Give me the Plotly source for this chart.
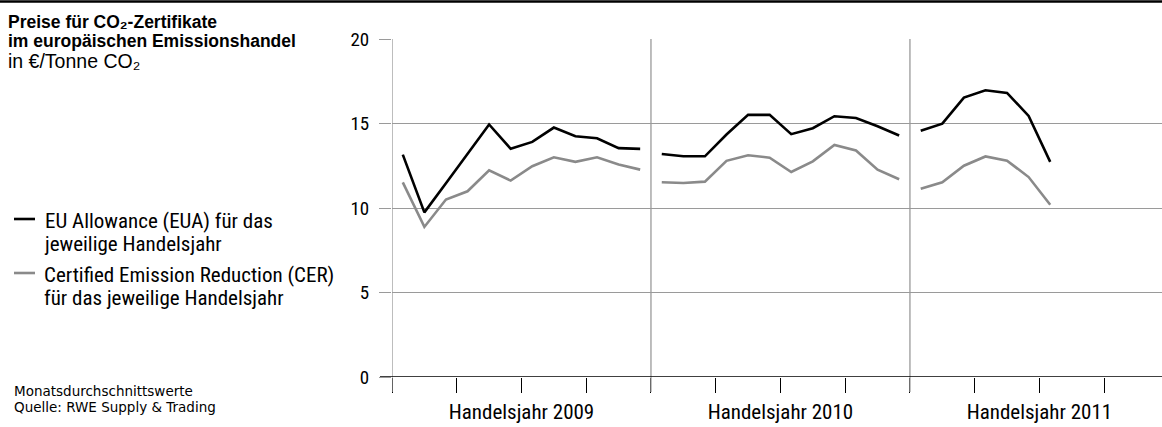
import plotly.graph_objects as go

# ---- data (monthly averages, €/t CO2) ----
years = ["Handelsjahr 2009", "Handelsjahr 2010", "Handelsjahr 2011"]
eua_2009 = [13.16, 9.74, 11.46, 13.18, 14.94, 13.50, 13.91, 14.76, 14.25, 14.13, 13.54, 13.50]
eua_2010 = [13.20, 13.06, 13.06, 14.35, 15.51, 15.51, 14.37, 14.72, 15.43, 15.33, 14.84, 14.29]
eua_2011 = [14.57, 14.99, 16.53, 16.97, 16.81, 15.45, 12.73]
cer_2009 = [11.52, 8.88, 10.50, 10.99, 12.23, 11.62, 12.47, 13.00, 12.73, 13.00, 12.57, 12.27]
cer_2010 = [11.52, 11.48, 11.56, 12.79, 13.12, 12.98, 12.13, 12.76, 13.73, 13.40, 12.27, 11.70]
cer_2011 = [11.14, 11.52, 12.50, 13.05, 12.80, 11.83, 10.19]
y_ticks = [0, 5, 10, 15, 20]
year_label_pos = [6, 18, 30]

title_lines = ["<b>Preise für CO₂-Zertifikate</b>",
               "<b>im europäischen Emissionshandel</b>"]
unit_line = ["in €/Tonne CO₂"]
legend_eua = ["EU Allowance (EUA) für das", "jeweilige Handelsjahr"]
legend_cer = ["Certified Emission Reduction (CER)", "für das jeweilige Handelsjahr"]
foot_lines = ["Monatsdurchschnittswerte", "Quelle: RWE Supply &amp; Trading"]

W, H = 1162, 427
L, R, T, B = 392, 0, 39, 50
PW, PH = W - L - R, H - T - B


def px(x):
    return (x - L) / PW


def py(y):
    return (H - B - y) / PH


def series(parts):
    xs, ys = [], []
    for k, vals in enumerate(parts):
        for i, v in enumerate(vals):
            xs.append(12 * k + i + 0.5)
            ys.append(v)
        xs.append(None)
        ys.append(None)
    return xs, ys


FONT_T = "Liberation Sans"
FONT_C = "Roboto Condensed"
FONT_F = "DejaVu Sans"
BLACK = "#000000"
GREY_LINE = "#8a8a8a"
GRID = "#9a9a9a"

fig = go.Figure()
xe, ye = series([eua_2009, eua_2010, eua_2011])
xc, yc = series([cer_2009, cer_2010, cer_2011])
fig.add_trace(go.Scatter(x=xc, y=yc, mode="lines", line=dict(color=GREY_LINE, width=2.6),
                         connectgaps=False, showlegend=False, hoverinfo="skip"))
fig.add_trace(go.Scatter(x=xe, y=ye, mode="lines", line=dict(color=BLACK, width=2.6),
                         connectgaps=False, showlegend=False, hoverinfo="skip"))

shapes = []
# top rule
shapes.append(dict(type="line", xref="paper", yref="paper", x0=px(0), x1=px(W), y0=py(1.5), y1=py(1.5),
                   line=dict(color=BLACK, width=2.5)))
# vertical year separators
for m in [0, 12, 24]:
    shapes.append(dict(type="line", xref="x", yref="paper", x0=m, x1=m, y0=py(392), y1=1,
                       line=dict(color=GRID, width=1.3), layer="above"))
# zero line extended to left
shapes.append(dict(type="line", xref="paper", yref="y", x0=px(380), x1=1, y0=0, y1=0,
                   line=dict(color=BLACK, width=1.5), layer="above"))
# legend samples
shapes.append(dict(type="line", xref="paper", yref="paper", x0=px(14), x1=px(35), y0=py(219), y1=py(219),
                   line=dict(color=BLACK, width=2.6)))
shapes.append(dict(type="line", xref="paper", yref="paper", x0=px(14), x1=px(35), y0=py(273), y1=py(273),
                   line=dict(color=GREY_LINE, width=2.6)))

annotations = []


def block(lines, x, y_mid, family, size, spacing):
    # one text element; line pitch = base size * 1.3, glyphs drawn at `size`
    body = "<br>".join('<span style="font-size:%gpx">%s</span>' % (size, t) for t in lines)
    annotations.append(dict(text=body, xref="paper", yref="paper", x=px(x), y=py(y_mid), xanchor="left",
                            yanchor="middle", align="left", showarrow=False,
                            font=dict(family=family, size=spacing / 1.3, color=BLACK)))


block(title_lines, 6, 31.5, FONT_T, 17.5, 18.5)
block(unit_line, 6, 61.5, FONT_T, 19.5, 20)
block(legend_eua, 42, 232.5, FONT_C, 21, 23)
block(legend_cer, 42, 286.5, FONT_C, 21, 23)
block(foot_lines, 12, 398.5, FONT_F, 13.5, 15.5)

fig.update_layout(
    width=W, height=H,
    margin=dict(l=L, r=R, t=T, b=B, pad=0),
    paper_bgcolor="white", plot_bgcolor="white",
    font=dict(family=FONT_C, size=21, color=BLACK),
    shapes=shapes, annotations=annotations,
    xaxis=dict(range=[0, 35.68], tickmode="array", tickvals=year_label_pos, ticktext=years,
               ticks="outside", ticklen=15, tickcolor=BLACK, tickwidth=1, ticklabelstandoff=1,
               minor=dict(tickmode="linear", tick0=0, dtick=3, ticks="outside", ticklen=15,
                          tickcolor=BLACK, tickwidth=1, showgrid=False),
               showgrid=False, zeroline=False, showline=False,
               tickfont=dict(family=FONT_C, size=21, color=BLACK), fixedrange=True),
    yaxis=dict(range=[0, 20], tickmode="array", tickvals=y_ticks,
               ticks="outside", ticklen=12, tickcolor=GRID, tickwidth=1, ticklabelstandoff=6,
               showgrid=True, gridcolor=GRID, gridwidth=1, zeroline=False, showline=False,
               tickfont=dict(family=FONT_C, size=19, color=BLACK), fixedrange=True),
)

fig.write_html("out.html", config={"displayModeBar": False, "staticPlot": True},
               post_script="document.body.style.margin='0px';")
